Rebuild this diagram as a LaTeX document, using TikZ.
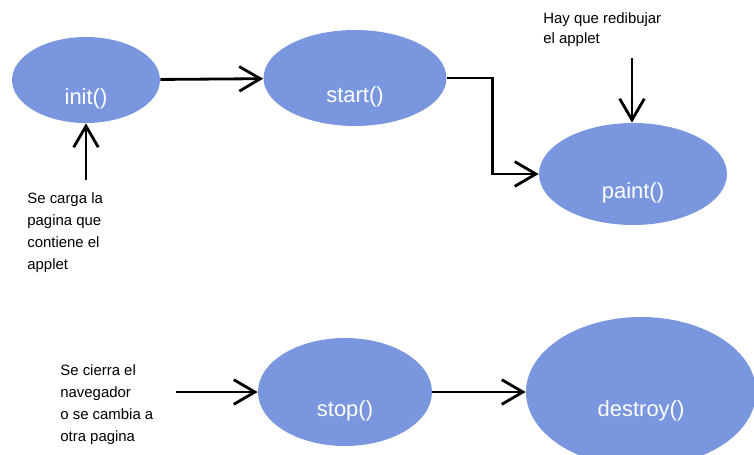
\documentclass[tikz,border=0pt]{standalone}
\usepackage{fontspec}
\setmainfont{Liberation Sans}
\usetikzlibrary{arrows.meta}
\usetikzlibrary{shapes.geometric}
\usetikzlibrary{positioning}
\definecolor{azulmetodo}{RGB}{122,150,222}
\tikzset{>={Straight Barb[length=12pt,width=14pt]}}
\tikzset{
    metodo/.style 2 args={ellipse, fill=azulmetodo, minimum width=#1, minimum height=#2, inner sep=0pt},
    texto/.style={label={[white, font=\fontsize{12.5}{15}\selectfont, yshift=-0.38cm]center:#1}},
    nota/.style={align=left, inner sep=0pt, anchor=north west, font=\fontsize{8.5}{12.5}\selectfont},
    flecha/.style={->, line width=1.6pt},
}

\begin{document}
\begin{tikzpicture}[x=0.02cm, y=-0.02cm]
		\useasboundingbox (0,0) rectangle (754,454);
		% metodos del applet
		\node[metodo={2.96cm}{1.72cm}, texto={init()}] (init) at (86,80) {};
		\node[metodo={3.66cm}{1.92cm}, texto={start()}] (start) at (355,78) {};
		\node[metodo={3.76cm}{2.04cm}, texto={paint()}] (paint) at (633,174) {};
		\node[metodo={3.48cm}{2.16cm}, texto={stop()}] (stop) at (345,392) {};
		\node[metodo={4.6cm}{3.0cm}, texto={destroy()}] (destroy) at (641,392) {};
		% notas
		\node[nota] (carga) at (27,192) {Se carga la\\pagina que\\contiene el\\applet};
		\node[nota, font=\fontsize{8.5}{11.5}\selectfont] (redibuja) at (543,12) {Hay que redibujar\\el applet};
		\node[nota] (cierra) at (60,364) {Se cierra el\\navegador\\o se cambia a\\otra pagina};
		\coordinate (cargaIn) at (86,180);
		\coordinate (redibujaIn) at (632,58);
		\coordinate (cierraIn) at (176,392);
		% flechas
		\draw[flecha] (init) -- (start);
		\draw[flecha] (start.east) -- ++(46,0) |- (paint.west);
		\draw[flecha] (cargaIn) -- (init.south);
		\draw[flecha] (redibujaIn) -- (redibujaIn |- paint.north);
		\draw[flecha] (cierraIn) -- (stop.west);
		\draw[flecha] (stop) -- (destroy);
	\end{tikzpicture}
\end{document}
